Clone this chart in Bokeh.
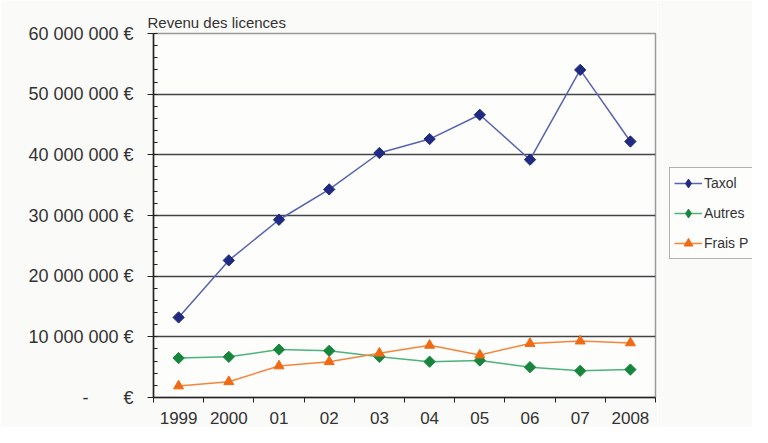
import numpy as np
from bokeh.plotting import figure
from bokeh.layouts import row
from bokeh.models import FixedTicker, Legend, LegendItem, Range1d
from bokeh.embed import file_html
from bokeh.resources import INLINE

years = ["1999", "2000", "01", "02", "03", "04", "05", "06", "07", "2008"]
taxol = [13.2e6, 22.6e6, 29.3e6, 34.3e6, 40.3e6, 42.6e6, 46.6e6, 39.2e6, 54.0e6, 42.2e6]
autres = [6.5e6, 6.7e6, 7.9e6, 7.7e6, 6.7e6, 5.9e6, 6.1e6, 5.0e6, 4.4e6, 4.6e6]
frais = [1.9e6, 2.6e6, 5.2e6, 5.9e6, 7.3e6, 8.6e6, 7.0e6, 8.9e6, 9.3e6, 9.0e6]
series_names = ["Taxol", "Autres", "Frais P"]
y_ticks = [0, 10e6, 20e6, 30e6, 40e6, 50e6, 60e6]
y_labels = ["-\u00a0\u00a0\u00a0\u00a0\u00a0\u00a0\u00a0€", "10 000 000 €", "20 000 000 €", "30 000 000 €",
            "40 000 000 €", "50 000 000 €", "60 000 000 €"]

BG = "#fafaf8"
n = len(years)
xs = np.arange(n) + 0.5
all_series = [taxol, autres, frais]

p = figure(width=657, height=427, output_backend="svg", toolbar_location=None,
           x_range=Range1d(0, n), y_range=Range1d(0, 60e6),
           min_border_left=153, min_border_right=2, min_border_top=33, min_border_bottom=30,
           border_fill_color=BG, background_fill_color="#fdfdfc")

p.title.text = "Revenu des licences"
p.title.text_font = "Liberation Sans"
p.title.text_font_size = "15px"
p.title.text_font_style = "normal"
p.title.text_color = "#333333"
p.title.standoff = 5
p.title.offset = -6

p.outline_line_color = "#9a9a9a"
p.outline_line_width = 1.5

# x axis
p.xaxis.ticker = FixedTicker(ticks=list(xs), minor_ticks=list(range(n + 1)))
p.xaxis.major_label_overrides = {float(x): y for x, y in zip(xs, years)}
p.xaxis.major_tick_out = 0
p.xaxis.major_tick_in = 0
p.xaxis.minor_tick_out = 5
p.xaxis.minor_tick_in = 0
p.xaxis.minor_tick_line_color = "#222222"
p.xaxis.axis_line_color = "#222222"
p.xaxis.axis_line_width = 1.5
p.xaxis.major_label_text_font = "Liberation Sans"
p.xaxis.major_label_text_font_size = "17px"
p.xaxis.major_label_text_color = "#333333"
p.xaxis.major_label_standoff = 9
p.xgrid.grid_line_color = None

# y axis
p.yaxis.ticker = FixedTicker(ticks=y_ticks, minor_ticks=list(np.arange(0, 60e6 + 1, 2e6)))
p.yaxis.major_label_overrides = {float(t): l for t, l in zip(y_ticks, y_labels)}
p.yaxis.major_tick_out = 6
p.yaxis.major_tick_in = 0
p.yaxis.minor_tick_out = 0
p.yaxis.minor_tick_in = 4
p.yaxis.minor_tick_line_color = "#222222"
p.yaxis.major_tick_line_color = "#222222"
p.yaxis.axis_line_color = "#222222"
p.yaxis.axis_line_width = 1.5
p.yaxis.major_label_text_font = "Liberation Sans"
p.yaxis.major_label_text_font_size = "18px"
p.yaxis.major_label_text_color = "#333333"
p.yaxis.major_label_standoff = 14
p.ygrid.grid_line_color = "#444444"
p.ygrid.grid_line_width = 1.5

styles = [
    dict(line="#5862b2", marker="square", size=8, angle=np.pi / 4, mcol="#1f2a80",
         lmarker="diamond", lsize=10),
    dict(line="#4cb37a", marker="square", size=8, angle=np.pi / 4, mcol="#17863c",
         lmarker="diamond", lsize=10),
    dict(line="#f5853a", marker="triangle", size=10, angle=0.0, mcol="#f06a14",
         lmarker="triangle", lsize=8),
]
for vals, st in zip(all_series, styles):
    p.line(xs, vals, line_color=st["line"], line_width=1.5)
    p.scatter(xs, vals, marker=st["marker"], size=st["size"], angle=st["angle"],
              fill_color=st["mcol"], line_color=st["mcol"])

# legend panel (separate figure so the box is not clipped by the plot frame);
# its renderers reuse the data but the view range keeps them out of sight
p2 = figure(width=95, height=427, output_backend="svg", toolbar_location=None,
            x_range=Range1d(-20, -19), y_range=Range1d(0, 1),
            min_border_left=0, min_border_right=0, min_border_top=0, min_border_bottom=0,
            border_fill_color=BG, background_fill_color=BG)
p2.axis.visible = False
p2.grid.visible = False
p2.outline_line_color = None
items = []
for name, vals, st in zip(series_names, all_series, styles):
    lr = p2.line(xs, vals, line_color=st["line"], line_width=1.5)
    mr = p2.scatter(xs, vals, marker=st["lmarker"], size=st["lsize"],
                    fill_color=st["mcol"], line_color=st["mcol"])
    items.append(LegendItem(label=name, renderers=[lr, mr]))

legend = Legend(items=items, location=(12, 138), orientation="vertical")
legend.label_text_font = "Liberation Sans"
legend.label_text_font_size = "14px"
legend.label_text_color = "#333333"
legend.glyph_width = 28
legend.glyph_height = 22
legend.spacing = 8
legend.padding = 4
legend.margin = 0
legend.label_standoff = 2
legend.border_line_color = "#666666"
legend.border_line_width = 1.5
legend.background_fill_color = "#fdfdfc"
p2.add_layout(legend, "center")

layout = row(p, p2, spacing=0)
open("out.html", "w").write(file_html(layout, INLINE))
